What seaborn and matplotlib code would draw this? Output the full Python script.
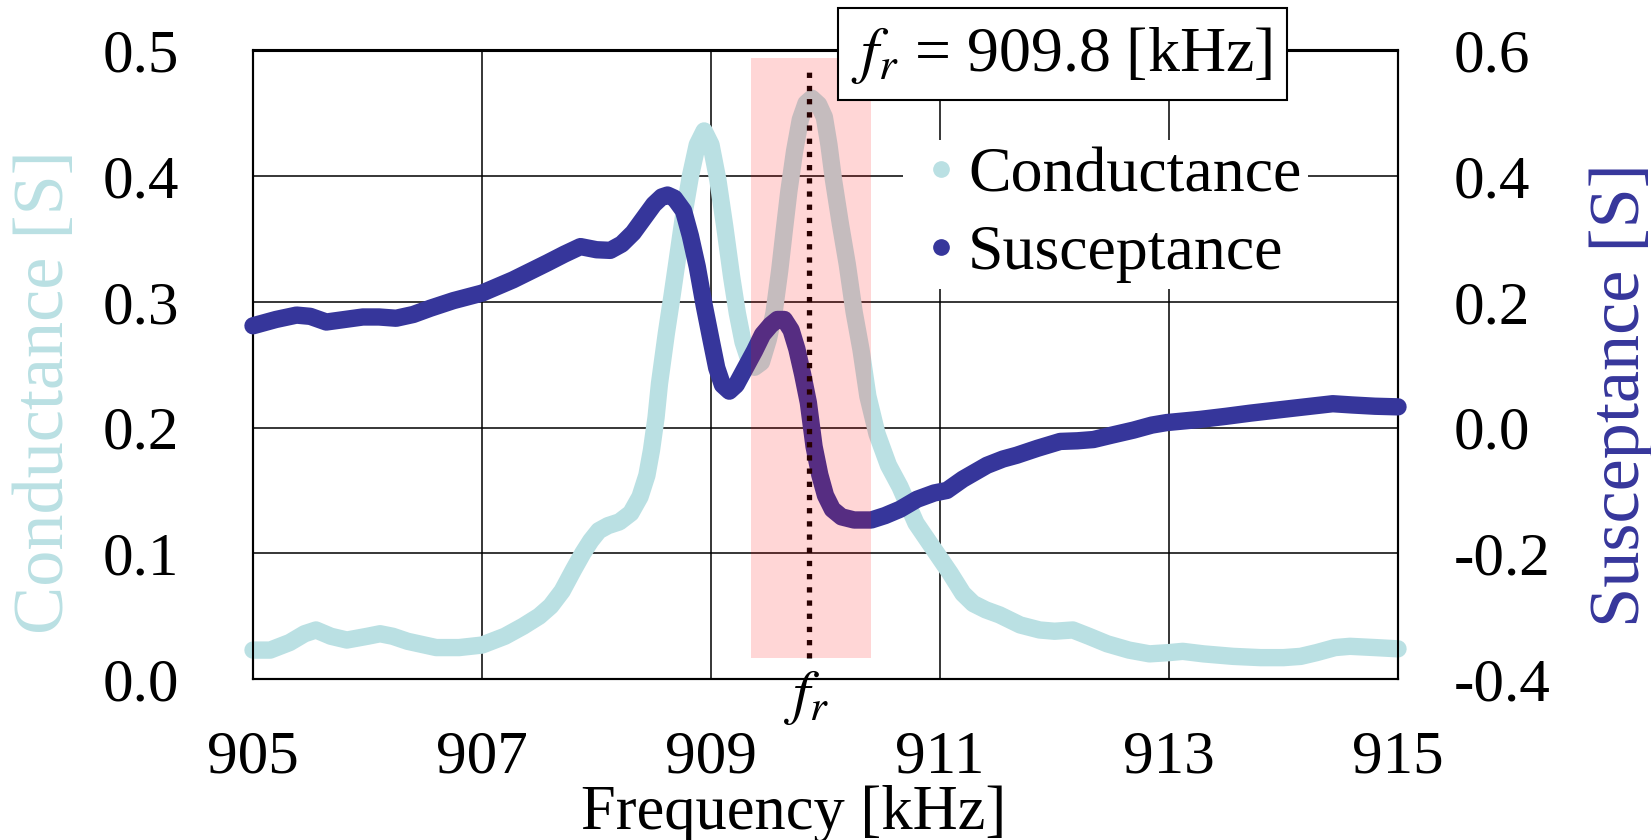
import numpy as np
import pandas as pd
import matplotlib
matplotlib.use("Agg")
import matplotlib.pyplot as plt
from matplotlib.lines import Line2D
from matplotlib.patches import Rectangle
import seaborn as sns

# ---------------- data ----------------
g_freq = [905.00, 905.15, 905.32, 905.45, 905.55, 905.68, 905.82, 906.00, 906.11, 906.22,
          906.35, 906.60, 906.80, 907.00, 907.20, 907.36, 907.50, 907.60, 907.70, 907.80,
          907.88, 907.95, 908.02, 908.10, 908.20, 908.30, 908.38, 908.44, 908.48, 908.52,
          908.55, 908.61, 908.66, 908.70, 908.76, 908.82, 908.88, 908.94, 909.00, 909.06,
          909.12, 909.18, 909.23, 909.28, 909.32, 909.38, 909.44, 909.50, 909.55, 909.60,
          909.64, 909.68, 909.73, 909.78, 909.83, 909.88, 909.94, 909.99, 910.03, 910.07,
          910.13, 910.19, 910.25, 910.31, 910.37, 910.45, 910.55, 910.65, 910.79, 910.94,
          911.09, 911.20, 911.29, 911.40, 911.52, 911.70, 911.87, 912.00, 912.16, 912.30,
          912.46, 912.65, 912.83, 913.00, 913.12, 913.30, 913.56, 913.80, 914.00, 914.15,
          914.29, 914.45, 914.58, 914.80, 915.00]
conductance = [0.023, 0.023, 0.029, 0.036, 0.039, 0.034, 0.031, 0.034, 0.036, 0.034,
               0.030, 0.025, 0.025, 0.027, 0.034, 0.042, 0.050, 0.058, 0.070, 0.087,
               0.100, 0.110, 0.118, 0.122, 0.125, 0.132, 0.145, 0.162, 0.182, 0.208,
               0.235, 0.275, 0.305, 0.330, 0.368, 0.400, 0.425, 0.436, 0.425, 0.397,
               0.360, 0.320, 0.291, 0.268, 0.257, 0.248, 0.252, 0.270, 0.291, 0.325,
               0.357, 0.388, 0.420, 0.445, 0.458, 0.462, 0.457, 0.447, 0.425, 0.397,
               0.362, 0.330, 0.292, 0.262, 0.225, 0.195, 0.170, 0.153, 0.124, 0.104,
               0.084, 0.068, 0.060, 0.055, 0.051, 0.043, 0.039, 0.038, 0.039, 0.034,
               0.028, 0.023, 0.020, 0.021, 0.022, 0.020, 0.018, 0.017, 0.017, 0.018,
               0.021, 0.025, 0.026, 0.025, 0.024]

b_freq = [905.00, 905.20, 905.38, 905.50, 905.64, 905.80, 905.96, 906.10, 906.25, 906.40,
          906.55, 906.75, 907.00, 907.27, 907.57, 907.72, 907.86, 908.00, 908.12, 908.22,
          908.32, 908.42, 908.50, 908.57, 908.62, 908.68, 908.76, 908.82, 908.88, 908.94,
          909.00, 909.05, 909.10, 909.16, 909.22, 909.30, 909.38, 909.45, 909.52, 909.58,
          909.64, 909.70, 909.75, 909.80, 909.85, 909.90, 909.95, 910.00, 910.06, 910.14,
          910.25, 910.40, 910.52, 910.65, 910.80, 910.95, 911.06, 911.20, 911.41, 911.55,
          911.67, 911.85, 912.05, 912.20, 912.34, 912.50, 912.69, 912.85, 912.98, 913.27,
          913.50, 913.71, 913.90, 914.14, 914.43, 914.60, 914.80, 915.00]
susceptance = [0.162, 0.172, 0.179, 0.177, 0.168, 0.172, 0.176, 0.176, 0.174, 0.180,
               0.190, 0.202, 0.214, 0.235, 0.262, 0.276, 0.288, 0.283, 0.282, 0.292,
               0.310, 0.335, 0.355, 0.367, 0.370, 0.365, 0.345, 0.305, 0.256, 0.195,
               0.140, 0.095, 0.068, 0.058, 0.068, 0.095, 0.122, 0.148, 0.163, 0.172,
               0.172, 0.155, 0.125, 0.085, 0.040, -0.030, -0.075, -0.108, -0.130, -0.142,
               -0.147, -0.147, -0.140, -0.130, -0.114, -0.104, -0.100, -0.082, -0.060, -0.050,
               -0.044, -0.033, -0.022, -0.021, -0.019, -0.012, -0.004, 0.004, 0.008, 0.013,
               0.018, 0.023, 0.027, 0.032, 0.038, 0.036, 0.034, 0.033]

x_ticks = [905, 907, 909, 911, 913, 915]
g_ticks = [0.0, 0.1, 0.2, 0.3, 0.4, 0.5]
b_ticks = [-0.4, -0.2, 0.0, 0.2, 0.4, 0.6]

fr_value = 909.86          # resonance line position
band = (909.35, 910.40)    # highlighted band
fr_text = r"$f_r$ = 909.8 [kHz]"

C_G = "#BAE0E3"
C_B = "#36369B"

# ---------------- style ----------------
sns.set_theme(style="white")
plt.rcParams["font.family"] = ["Liberation Serif", "DejaVu Serif"]
plt.rcParams["mathtext.fontset"] = "stix"
plt.rcParams["axes.unicode_minus"] = False
plt.rcParams["text.color"] = "black"
plt.rcParams["axes.labelcolor"] = "black"
FS = 44

W, H = 1651, 840
fig = plt.figure(figsize=(W / 100, H / 100), dpi=100)
L, R, T, B = 253, 1398, 50.5, 679
ax = fig.add_axes([L / W, 1 - B / H, (R - L) / W, (B - T) / H])
ax2 = ax.twinx()

df_g = pd.DataFrame({"freq": g_freq, "val": conductance})
df_b = pd.DataFrame({"freq": b_freq, "val": susceptance})

sns.lineplot(data=df_g, x="freq", y="val", ax=ax, color=C_G, linewidth=12.5,
             sort=False, errorbar=None, solid_capstyle="round",
             solid_joinstyle="round", clip_on=False, zorder=3)
sns.lineplot(data=df_b, x="freq", y="val", ax=ax2, color=C_B, linewidth=12.5,
             sort=False, errorbar=None, solid_capstyle="round",
             solid_joinstyle="round", clip_on=False, zorder=3)

ax.set_xlim(905, 915)
ax.set_ylim(0, 0.5)
ax2.set_ylim(-0.4, 0.6)

ax.set_xticks(x_ticks)
ax.set_xticklabels([str(v) for v in x_ticks])
ax.set_yticks(g_ticks)
ax.set_yticklabels([f"{v:.1f}" for v in g_ticks])
ax2.set_yticks(b_ticks)
ax2.set_yticklabels([f"{v:.1f}" for v in b_ticks])

ax.grid(True, color="black", linewidth=1.1)
ax2.grid(False)
ax.set_axisbelow(True)

ax.tick_params(axis="both", length=0, labelsize=FS, colors="black")
ax.tick_params(axis="y", pad=53)
ax.tick_params(axis="x", pad=37)
ax2.tick_params(axis="y", length=0, labelsize=FS, pad=40, colors="black")

for a in (ax, ax2):
    for s in a.spines.values():
        s.set_color("black")
        s.set_linewidth(1.5)

ax.set_xlabel("Frequency [kHz]", fontsize=FS + 1, color="black")
ax.xaxis.set_label_coords(0.4725, -0.168)
ax.set_ylabel("Conductance [S]", fontsize=52, color=C_G)
ax.yaxis.set_label_coords(-0.181, 0.457)
ax.yaxis.label.set_va("center")
ax2.set_ylabel("Susceptance [S]", fontsize=52, color=C_B, rotation=90)
ax2.yaxis.set_label_coords(1.195, 0.452)
ax2.yaxis.label.set_va("center")
ax2.yaxis.label.set_ha("center")

# resonance marker line and highlighted band
ax2.axvline(fr_value, ymin=0.033, ymax=0.974, color="black", linewidth=3.8,
            linestyle=(0, (1, 1.5)), zorder=9)
ax2.axvspan(band[0], band[1], ymin=0.033, ymax=0.988, facecolor="red",
            alpha=0.16, linewidth=0, zorder=10)

ax.text(fr_value - 0.02, -0.029, r"$f_r$", transform=ax.get_xaxis_transform(),
        ha="center", va="center", fontsize=FS, clip_on=False)

# legend
handles = [Line2D([0], [0], marker="o", linestyle="", color=C_G, markersize=11,
                  label="Conductance"),
           Line2D([0], [0], marker="o", linestyle="", color=C_B, markersize=11,
                  label="Susceptance")]
leg = ax2.legend(handles=handles, loc="upper left",
                 bbox_to_anchor=((903 - L) / (R - L), (B - 140) / (B - T)),
                 borderaxespad=0, borderpad=0.1, frameon=True, fancybox=False,
                 facecolor="white", edgecolor="none", framealpha=1, fontsize=46,
                 handlelength=1.0, handletextpad=-0.08, labelspacing=0.3)
leg.set_zorder(20)

# f_r annotation box
fig.patches.append(Rectangle((838 / W, 1 - 100 / H), 449 / W, 92 / H,
                             transform=fig.transFigure, facecolor="white",
                             edgecolor="black", linewidth=1.5, zorder=30))
fig.text(1062 / W, 1 - 55 / H, fr_text, ha="center", va="center",
         fontsize=46, zorder=31)

fig.savefig("out.png", dpi=100)
